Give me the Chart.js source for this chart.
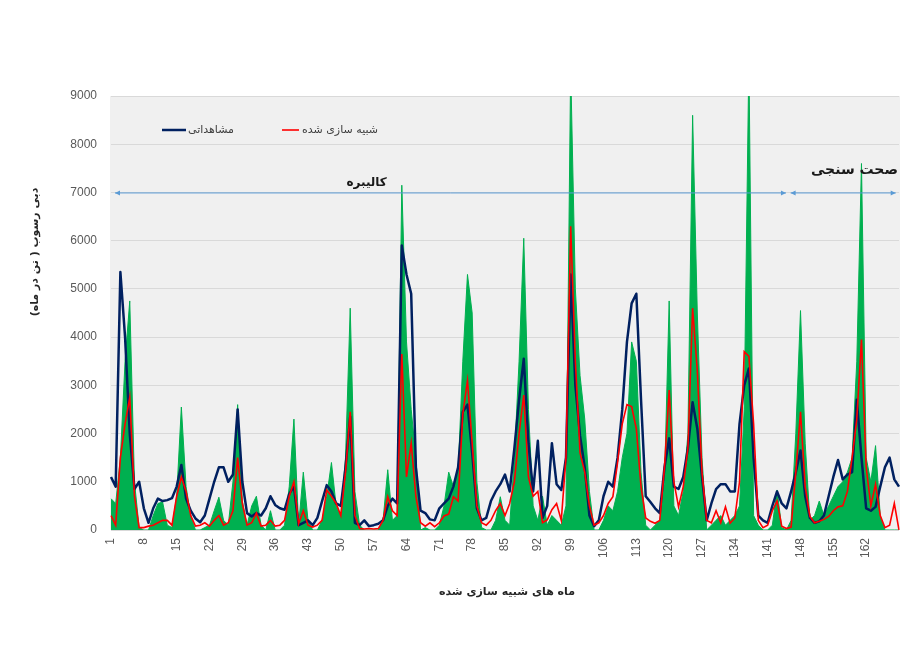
<!DOCTYPE html>
<html>
<head>
<meta charset="utf-8">
<script src="https://cdn.jsdelivr.net/npm/chart.js@4.4.1/dist/chart.umd.min.js"></script>
<style>
  html, body { margin: 0; padding: 0; background: #ffffff; }
  canvas { display: block; }
</style>
</head>
<body>
<canvas id="c" width="908" height="659"></canvas>
<script>
// ---------------- DATA ----------------
const monthCount = 169;
const months = [];
for (let i = 1; i <= monthCount; i++) months.push(String(i));
const lastLabeledMonth = 162;

const observed = [
  1100, 900, 5350, 4000, 2000, 850, 1000, 450, 150, 450,
  650, 600, 620, 660, 900, 1350, 650, 400, 240, 160,
  300, 650, 1000, 1300, 1300, 1000, 1150, 2500, 1000, 350,
  280, 350, 300, 450, 700, 520, 450, 420, 750, 900,
  100, 150, 200, 100, 250, 600, 930, 800, 550, 500,
  1300, 2350, 150, 100, 200, 80, 100, 130, 200, 500,
  650, 550, 5900, 5300, 4900, 1300, 400, 350, 220, 200,
  450, 550, 650, 900, 1300, 2450, 2600, 1600, 450, 200,
  250, 600, 800, 950, 1150, 800, 1700, 2700, 3550, 1800,
  800, 1850, 250, 500, 1800, 950, 830, 1500, 5300, 3000,
  1950, 1300, 300, 80, 200, 700, 1000, 900, 1500, 2500,
  3900, 4700, 4900, 2700, 700, 580, 450, 350, 1300, 1900,
  900, 850, 1100, 1700, 2650, 2100, 1100, 200, 550, 850,
  950, 950, 800, 800, 2200, 3000, 3350, 1500, 300, 200,
  150, 500, 800, 550, 450, 800, 1200, 1650, 700, 250,
  150, 180, 300, 700, 1100, 1450, 1050, 1150, 1200, 2700,
  1500, 450, 400, 480, 900, 1300, 1500, 1050, 900
];

const simulated = [
  300, 100, 1500, 2200, 2750, 700, 50, 50, 80, 100,
  150, 200, 200, 100, 700, 1100, 800, 300, 80, 100,
  150, 80, 200, 300, 100, 150, 400, 1500, 550, 100,
  150, 350, 80, 100, 200, 80, 100, 200, 700, 1000,
  130, 400, 100, 60, 100, 200, 830, 700, 550, 300,
  1200, 2450, 300, 30, 20, 30, 20, 30, 200, 690,
  400, 300, 3650, 1100, 1800, 700, 150, 80, 150, 70,
  150, 290, 330, 690, 600, 2400, 3100, 1800, 500, 150,
  100, 200, 400, 550, 300, 550, 1000, 2000, 2800, 1100,
  700, 800, 150, 210, 420, 550, 200, 1500, 6300, 3500,
  1600, 1200, 500, 100, 150, 300, 550, 690, 1400, 2200,
  2600, 2560, 2100, 900, 250, 180, 140, 200, 1300, 2900,
  1000, 480, 900, 1700, 4600, 3300, 1200, 200, 150, 400,
  150, 480, 140, 250, 1000, 3700, 3600, 2200, 200, 50,
  100, 400, 600, 80, 30, 60, 1200, 2450, 900, 280,
  150, 180, 220, 280, 400, 480, 500, 800, 1500, 2300,
  3950, 1300, 500, 950, 300, 50, 100, 550, 0
];

const greenArea = [
  650, 550, 1500, 3500, 4750, 1000, 50, 0, 0, 300,
  550, 580, 100, 50, 700, 2550, 900, 300, 0, 0,
  50, 100, 400, 680, 200, 100, 1000, 2600, 600, 100,
  500, 700, 100, 0, 400, 0, 0, 100, 900, 2300,
  100, 1200, 200, 0, 0, 200, 700, 1400, 500, 300,
  1500, 4600, 800, 100, 0, 0, 0, 0, 200, 1250,
  200, 300, 7150, 3900, 2500, 1500, 0, 50, 0, 0,
  100, 500, 1200, 900, 1200, 3500, 5300, 4500, 1000, 50,
  0, 0, 200, 690, 200, 100, 1500, 3500, 6050, 2500,
  500, 200, 700, 100, 300, 200, 100, 500, 9600, 5000,
  3200, 2300, 800, 0, 0, 200, 500, 400, 800, 1500,
  2000, 3900, 3500, 1200, 100, 0, 100, 200, 1000, 4750,
  500, 300, 800, 2000, 8600, 4500, 1500, 0, 100, 200,
  300, 100, 200, 300, 500, 2500, 9800, 300, 100, 0,
  0, 100, 830, 50, 0, 200, 2000, 4550, 1800, 200,
  300, 600, 300, 500, 700, 900, 1000, 1200, 1500, 3500,
  7600, 1500, 1000, 1750, 300, 0, 0, 0, 0
];

// periods (category index range, 0-based, fractional allowed) and their labels
const calibRange = [0.85, 143.9];
const validRange = [144.9, 167.3];
const periodLevel = 7000;
const calibLabel = 'کالیبره';
const validLabel = 'صحت سنجی';

const seriesNames = ['مشاهداتی', 'شبیه سازی شده'];
const yTitle = 'دبی رسوب ( تن در ماه)';
const xTitle = 'ماه های شبیه سازی شده';

// ---------------- PLUGINS ----------------
const faFont = '"DejaVu Sans", "Noto Sans", sans-serif';

const backgroundPlugin = {
  id: 'plotBg',
  beforeDraw(chart) {
    const { ctx, chartArea: a, width, height } = chart;
    ctx.save();
    ctx.fillStyle = '#ffffff';
    ctx.fillRect(0, 0, width, height);
    ctx.fillStyle = '#f0f0f0';
    ctx.fillRect(a.left - 1, a.top, a.right - a.left + 2, a.bottom - a.top);
    ctx.restore();
  }
};

function arrowHead(ctx, x, y, dir) {
  ctx.beginPath();
  ctx.moveTo(x, y);
  ctx.lineTo(x - dir * 5, y - 2.5);
  ctx.lineTo(x - dir * 5, y + 2.5);
  ctx.closePath();
  ctx.fill();
}

const annotationPlugin = {
  id: 'annot',
  afterDatasetsDraw(chart) {
    const { ctx } = chart;
    const xs = chart.scales.x, ys = chart.scales.y;
    const yLev = ys.getPixelForValue(periodLevel);
    ctx.save();
    ctx.strokeStyle = '#5b9bd5';
    ctx.fillStyle = '#5b9bd5';
    ctx.lineWidth = 1;
    [calibRange, validRange].forEach(r => {
      const x1 = xs.getPixelForValue(r[0]);
      const x2 = xs.getPixelForValue(r[1]);
      ctx.beginPath();
      ctx.moveTo(x1, yLev + 0.5);
      ctx.lineTo(x2, yLev + 0.5);
      ctx.stroke();
      arrowHead(ctx, x1, yLev + 0.5, -1);
      arrowHead(ctx, x2, yLev + 0.5, 1);
    });
    ctx.fillStyle = '#1a1a1a';
    ctx.textAlign = 'center';
    ctx.textBaseline = 'middle';
    ctx.font = 'bold 12px ' + faFont;
    const cx = xs.getPixelForValue(54.5);
    ctx.fillText(calibLabel, cx, yLev - 10);
    ctx.font = 'bold 14px ' + faFont;
    const vx = xs.getPixelForValue(158.5);
    ctx.fillText(validLabel, vx, yLev - 22);

    // legend inside plot
    const ly = 130;
    ctx.lineWidth = 2.5;
    ctx.strokeStyle = '#002060';
    ctx.beginPath(); ctx.moveTo(162, ly); ctx.lineTo(186, ly); ctx.stroke();
    ctx.lineWidth = 1.6;
    ctx.strokeStyle = '#ff0000';
    ctx.beginPath(); ctx.moveTo(282, ly); ctx.lineTo(299, ly); ctx.stroke();
    ctx.fillStyle = '#404040';
    ctx.textAlign = 'left';
    ctx.font = '11px ' + faFont;
    ctx.fillText(seriesNames[0], 188, ly);
    ctx.fillText(seriesNames[1], 302, ly);

    // axis titles
    ctx.fillStyle = '#262626';
    ctx.font = 'bold 11px ' + faFont;
    ctx.textAlign = 'center';
    ctx.fillText(xTitle, 507, 592);
    ctx.translate(35, 252);
    ctx.rotate(-Math.PI / 2);
    ctx.fillText(yTitle, 0, 0);
    ctx.restore();
  }
};

// ---------------- CHART ----------------
const tickFont = { family: '"Liberation Sans", Arial, sans-serif', size: 12 };

new Chart(document.getElementById('c'), {
  type: 'line',
  data: {
    labels: months,
    datasets: [
      {
        label: seriesNames[0],
        data: observed,
        borderColor: '#002060',
        borderWidth: 2.5,
        borderJoinStyle: 'round',
        pointRadius: 0,
        fill: false,
        tension: 0,
        order: 2
      },
      {
        label: seriesNames[1],
        data: simulated,
        borderColor: '#ff0000',
        borderWidth: 1.6,
        pointRadius: 0,
        fill: false,
        tension: 0,
        order: 1
      },
      {
        label: '',
        data: greenArea,
        borderColor: '#00b050',
        backgroundColor: '#00b050',
        borderWidth: 1,
        pointRadius: 0,
        fill: 'origin',
        tension: 0,
        order: 3
      }
    ]
  },
  options: {
    responsive: false,
    animation: false,
    events: [],
    layout: { padding: { top: 96, right: 9, bottom: 0, left: 0 } },
    plugins: { legend: { display: false }, tooltip: { enabled: false } },
    scales: {
      x: {
        offset: false,
        grid: { display: false, drawTicks: false },
        border: { display: false },
        ticks: {
          autoSkip: false,
          maxRotation: 90,
          minRotation: 90,
          padding: 8,
          color: '#595959',
          font: tickFont,
          callback: (v, i) => (i % 7 === 0 && i + 1 <= lastLabeledMonth ? months[i] : '')
        },
        afterFit(s) { s.height = 129; s.paddingRight = 0; s.paddingLeft = 0; }
      },
      y: {
        min: 0,
        max: 9000,
        ticks: { stepSize: 1000, padding: 14, color: '#595959', font: tickFont, callback: v => String(v) },
        grid: { color: '#d9d9d9', drawTicks: false },
        border: { display: false },
        afterFit(s) { s.width = 111; }
      }
    }
  },
  plugins: [backgroundPlugin, annotationPlugin]
});
</script>
</body>
</html>
